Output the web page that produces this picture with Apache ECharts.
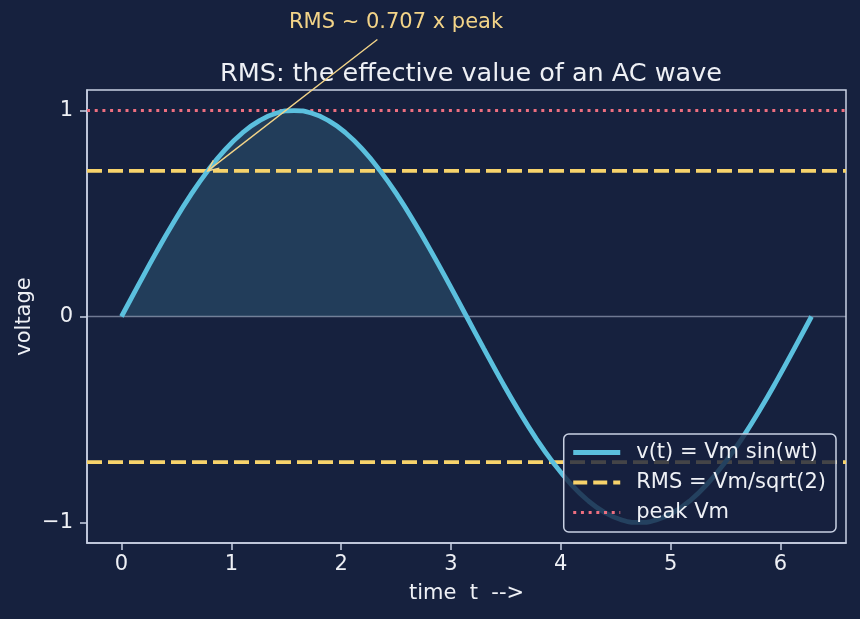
<!DOCTYPE html>
<html><head><meta charset="utf-8">
<script src="https://cdn.jsdelivr.net/npm/echarts@6/dist/echarts.min.js"></script>
<style>html,body{margin:0;padding:0;background:#16213e}#c{width:860px;height:619px}</style>
</head><body><div id="c"></div>
<script>
// ---- data ----
const tValues = [0, 0.157, 0.314, 0.471, 0.628, 0.785, 0.942, 1.100, 1.257, 1.414, 1.571,
  1.728, 1.885, 2.042, 2.199, 2.356, 2.513, 2.670, 2.827, 2.985, 3.142,
  3.299, 3.456, 3.613, 3.770, 3.927, 4.084, 4.241, 4.398, 4.555, 4.712,
  4.869, 5.027, 5.184, 5.341, 5.498, 5.655, 5.812, 5.969, 6.126, 6.283];
const vValues = [0, 0.156, 0.309, 0.454, 0.588, 0.707, 0.809, 0.891, 0.951, 0.988, 1.0,
  0.988, 0.951, 0.891, 0.809, 0.707, 0.588, 0.454, 0.309, 0.156, 0,
  -0.156, -0.309, -0.454, -0.588, -0.707, -0.809, -0.891, -0.951, -0.988, -1.0,
  -0.988, -0.951, -0.891, -0.809, -0.707, -0.588, -0.454, -0.309, -0.156, 0];
const xTicks = [0, 1, 2, 3, 4, 5, 6];
const yTicks = [-1, 0, 1];
const xRange = [-0.314, 6.597];
const yRange = [-1.1, 1.1];
const rmsLevel = 0.707;
const peakLevel = 1;
const seriesNames = ['v(t) = Vm sin(wt)', 'RMS = Vm/sqrt(2)', 'peak Vm'];
const titleText = 'RMS: the effective value of an AC wave';
const xName = 'time  t  -->';
const yName = 'voltage';
const annotationText = 'RMS ~ 0.707 x peak';
const annotationTextAt = [2.50, 1.43];
const annotationTail = [2.33, 1.345];
const annotationHead = [0.785, 0.707];

// ---- build ----
const BG = '#16213e', FG = '#eef0f5', SPINE = '#c9d1e3';
const C_SINE = '#5bc0de', C_RMS = '#f7d36b', C_PEAK = '#ee6f80', C_ANN = '#f3d488';
const FONT = 'DejaVu Sans';
const sinePts = tValues.map((t, i) => [t, vValues[i]]);
const posPts = sinePts.filter(p => p[0] <= 3.1421);
const hLine = y => [[xRange[0], y], [xRange[1], y]];

const chart = echarts.init(document.getElementById('c'), null, {renderer: 'canvas'});
const axisCommon = {
  axisLine: {show: true, onZero: false, lineStyle: {color: SPINE, width: 1.5}},
  axisTick: {show: true, length: 7, lineStyle: {color: SPINE, width: 1.5}},
  axisLabel: {color: FG, fontSize: 21, fontFamily: FONT},
  splitLine: {show: false},
  nameTextStyle: {color: FG, fontSize: 21, fontFamily: FONT},
  nameLocation: 'middle',
  nameMoveOverlap: false
};
const legendItems = [
  {name: seriesNames[0], lineStyle: {width: 5, color: C_SINE, type: 'solid'}},
  {name: seriesNames[1], lineStyle: {width: 4, color: C_RMS, type: [14, 6]}},
  {name: seriesNames[2], lineStyle: {width: 3, color: C_PEAK, type: [3, 4.7]}}
];
const option = {
  backgroundColor: BG,
  animation: false,
  title: {text: titleText, left: 466, top: 56, textAlign: 'center',
    textStyle: {color: FG, fontSize: 25.5, fontWeight: 'normal', fontFamily: FONT}},
  grid: {left: 87, right: 14, top: 90, bottom: 76, show: true, borderColor: SPINE, borderWidth: 1.5, containLabel: false},
  xAxis: Object.assign({}, axisCommon, {
    type: 'value', min: xRange[0], max: xRange[1], name: xName, nameGap: 40,
    axisTick: Object.assign({}, axisCommon.axisTick, {customValues: xTicks}),
    axisLabel: Object.assign({}, axisCommon.axisLabel, {customValues: xTicks, margin: 11, formatter: v => String(v)})
  }),
  yAxis: Object.assign({}, axisCommon, {
    type: 'value', min: yRange[0], max: yRange[1], name: yName, nameGap: 52,
    axisTick: Object.assign({}, axisCommon.axisTick, {customValues: yTicks}),
    axisLabel: Object.assign({}, axisCommon.axisLabel, {customValues: yTicks, margin: 14,
      formatter: v => (v < 0 ? '\u2212' + Math.abs(v) : String(v))})
  }),
  legend: {
    orient: 'vertical', right: 24, bottom: 87, data: legendItems, z: 20,
    backgroundColor: 'rgba(22,33,62,0.8)', borderColor: SPINE, borderWidth: 1.5, borderRadius: 5,
    padding: [8, 10, 9, 7], itemGap: 9, itemWidth: 47, itemHeight: 21,
    itemStyle: {opacity: 0},
    textStyle: {color: FG, fontSize: 21, fontFamily: FONT, padding: [0, 0, 0, 11]}
  },
  series: [
    {type: 'line', name: 'fill', data: posPts, smooth: true, showSymbol: false, symbol: 'none',
      lineStyle: {width: 0}, areaStyle: {color: 'rgba(91,192,222,0.25)', origin: 0}, z: 1, silent: true},
    {type: 'line', name: 'zero', data: hLine(0), showSymbol: false, symbol: 'none',
      lineStyle: {color: 'rgba(200,210,230,0.5)', width: 1.5}, z: 1, silent: true},
    {type: 'line', name: seriesNames[1], data: hLine(rmsLevel), showSymbol: false, symbol: 'none',
      itemStyle: {color: C_RMS}, lineStyle: {color: C_RMS, width: 3.8, type: [15, 6]}, z: 2},
    {type: 'line', name: seriesNames[1], data: hLine(-rmsLevel), showSymbol: false, symbol: 'none',
      itemStyle: {color: C_RMS}, lineStyle: {color: C_RMS, width: 3.8, type: [15, 6]}, z: 2},
    {type: 'line', name: seriesNames[2], data: hLine(peakLevel), showSymbol: false, symbol: 'none',
      itemStyle: {color: C_PEAK}, lineStyle: {color: C_PEAK, width: 3, type: [3, 4.7]}, z: 2},
    {type: 'line', name: seriesNames[0], data: sinePts, smooth: true, showSymbol: false, symbol: 'none',
      itemStyle: {color: C_SINE}, lineStyle: {color: C_SINE, width: 4.8}, z: 3}
  ]
};
chart.setOption(option);

// annotation placed through the chart's own scales
const tail = chart.convertToPixel({gridIndex: 0}, annotationTail);
const head = chart.convertToPixel({gridIndex: 0}, annotationHead);
const txt = chart.convertToPixel({gridIndex: 0}, annotationTextAt);
const ang = Math.atan2(tail[1] - head[1], tail[0] - head[0]);
const L = 12, A = 0.42;
const w1 = [head[0] + L * Math.cos(ang + A), head[1] + L * Math.sin(ang + A)];
const w2 = [head[0] + L * Math.cos(ang - A), head[1] + L * Math.sin(ang - A)];
chart.setOption({
  graphic: [
    {type: 'line', shape: {x1: tail[0], y1: tail[1], x2: head[0], y2: head[1]},
      style: {stroke: C_ANN, lineWidth: 1.4}, z: 100},
    {type: 'polyline', shape: {points: [w1, head, w2]}, style: {stroke: C_ANN, lineWidth: 1.4, fill: null}, z: 100},
    {type: 'text', x: txt[0], y: txt[1], style: {text: annotationText, fill: C_ANN, fontSize: 21,
      fontFamily: FONT, align: 'center', verticalAlign: 'middle'}, z: 100}
  ]
});
</script></body></html>
